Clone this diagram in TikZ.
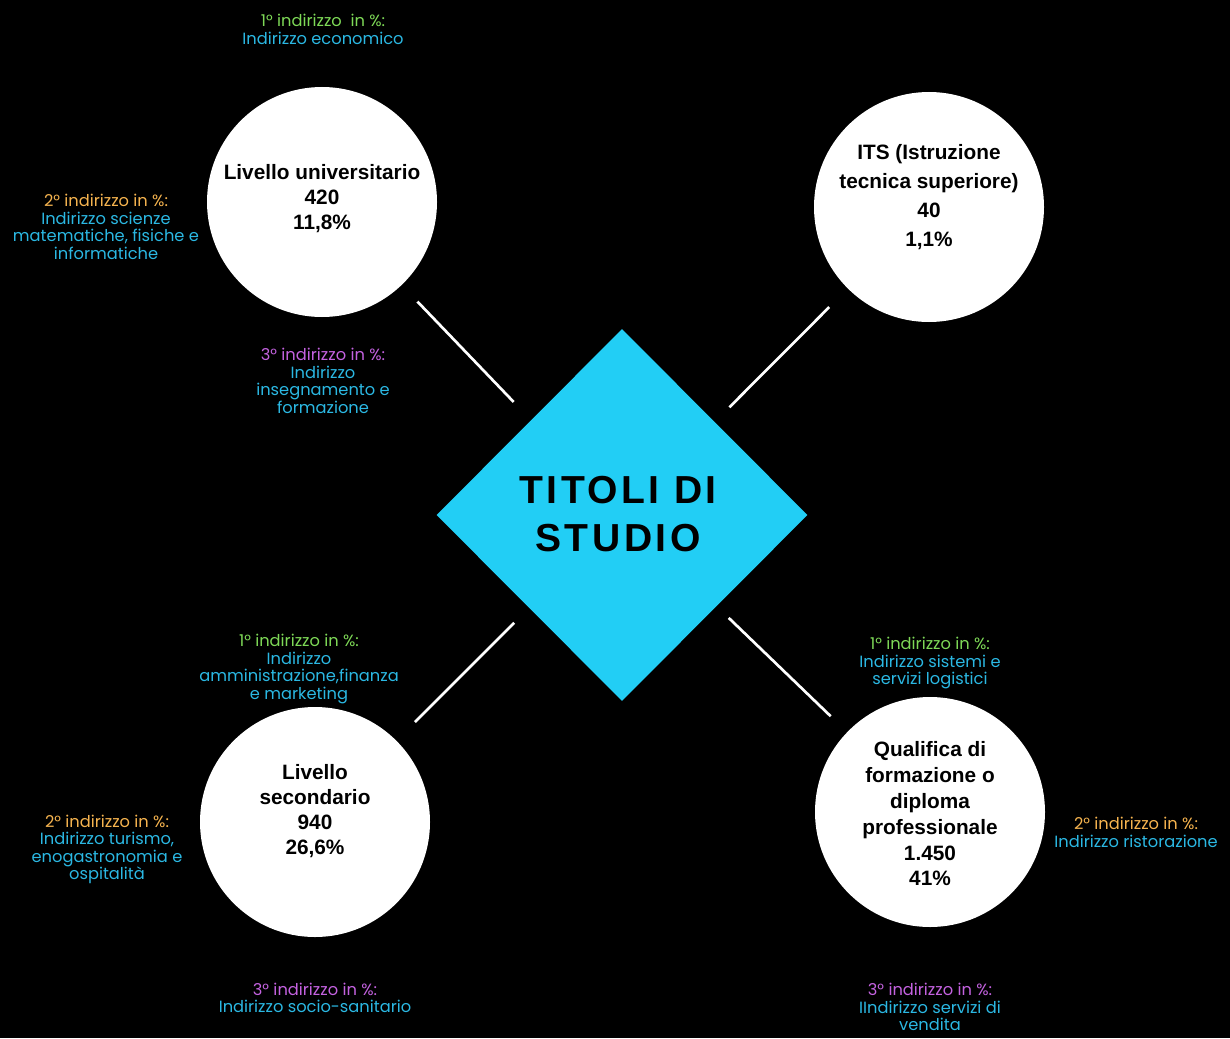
\documentclass[tikz,border=0pt]{standalone}
\usepackage{fontspec}
\setmainfont{Liberation Sans}
\newfontfamily\labfont{Poppins}
\usetikzlibrary{shapes.geometric}
\definecolor{dcyan}{HTML}{22CEF5}
\definecolor{tcyan}{HTML}{2BB8E3}
\definecolor{lgreen}{HTML}{7ED957}
\definecolor{lorange}{HTML}{F6B44F}
\definecolor{lpurple}{HTML}{C462E0}
\tikzset{
  circ/.style={circle, fill=white, minimum size=172.5pt, inner sep=0pt},
  ctext/.style={align=center, text=black, inner sep=0pt, font=\bfseries\fontsize{15.6}{18.75}\selectfont},
  lab/.style={align=center, text=tcyan, inner sep=0pt, font=\labfont\fontsize{12.2}{13.1}\selectfont},
  conn/.style={draw=white, line width=2pt},
}
\newcommand{\gr}[1]{\textcolor{lgreen}{#1}}
\newcommand{\og}[1]{\textcolor{lorange}{#1}}
\newcommand{\pu}[1]{\textcolor{lpurple}{#1}}
\begin{document}
\begin{tikzpicture}[x=0.75pt,y=-0.75pt]
\useasboundingbox (0,0) rectangle (1230,1038);
\fill[black] (0,0) rectangle (1230,1038);

\node[diamond, fill=dcyan, minimum width=278.25pt, minimum height=279pt, inner sep=0pt, aspect=1] (dia) at (622,515) {};
\node[align=center, inner sep=0pt, font=\bfseries\addfontfeature{LetterSpace=9}\fontsize{29.3}{36}\selectfont] (title) at (618,514) {TITOLI DI\\STUDIO};

\node[circ] (tl) at (322,202) {};
\node[circ] (tr) at (929,207) {};
\node[circ] (bl) at (315,822) {};
\node[circ] (br) at (930,812) {};

\node[ctext] (ttl) at (322,199) {Livello universitario\\420\\11,8\%};
\node[ctext, font=\bfseries\fontsize{15.6}{21.75}\selectfont] (ttr) at (929,197) {ITS (Istruzione\\tecnica superiore)\\40\\1,1\%};
\node[ctext] (tbl) at (315,811) {Livello\\secondario\\940\\26,6\%};
\node[ctext, font=\bfseries\fontsize{15.6}{19.35}\selectfont] (tbr) at (930,814) {Qualifica di\\formazione o\\diploma\\professionale\\1.450\\41\%};

\draw[conn, shorten <=17pt, shorten >=18.75pt] (tl) -- (dia);
\draw[conn, shorten <=19.5pt, shorten >=15.4pt] (tr) -- (dia);
\draw[conn, shorten <=19.5pt, shorten >=15.75pt] (bl) -- (dia);
\draw[conn, shorten <=17pt, shorten >=12.5pt] (br) -- (dia);

\node[lab] (l1) at (323,29.5) {\gr{1° indirizzo~ in \%:}\\Indirizzo economico};
\node[lab] (l2) at (106,227) {\og{2° indirizzo in \%:}\\Indirizzo scienze\\matematiche, fisiche e\\informatiche};
\node[lab] (l3) at (323,381) {\pu{3° indirizzo in \%:}\\Indirizzo\\insegnamento e\\formazione};
\node[lab] (b1) at (299,669) {\gr{1° indirizzo in \%:}\\Indirizzo\\amministrazione,finanza\\e marketing};
\node[lab] (b2) at (107,849.5) {\og{2° indirizzo in \%:}\\Indirizzo turismo,\\enogastronomia e\\ospitalità};
\node[lab] (b3) at (315,998) {\pu{3° indirizzo in \%:}\\Indirizzo socio-sanitario};
\node[lab] (r1) at (930,663) {\gr{1° indirizzo in \%:}\\Indirizzo sistemi e\\servizi logistici};
\node[lab] (r2) at (1136,832.5) {\og{2° indirizzo in \%:}\\Indirizzo ristorazione};
\node[lab] (r3) at (930,1007) {\pu{3° indirizzo in \%:}\\IIndirizzo servizi di\\vendita};
\end{tikzpicture}
\end{document}
